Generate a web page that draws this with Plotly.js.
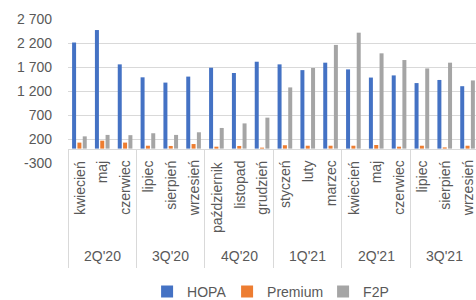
<!DOCTYPE html>
<html>
<head>
<meta charset="utf-8">
<script src="https://cdn.plot.ly/plotly-3.0.1.min.js"></script>
<style>html,body{margin:0;padding:0;background:#fff;}#chart{width:476px;height:300px;}</style>
</head>
<body>
<div id="chart"></div>
<script>
const months = ['kwiecień','maj','czerwiec','lipiec','sierpień','wrzesień','październik','listopad','grudzień','styczeń','luty','marzec','kwiecień','maj','czerwiec','lipiec','sierpień','wrzesień'];
const quarters = ["2Q'20","3Q'20","4Q'20","1Q'21","2Q'21","3Q'21"];
const hopa = [2210, 2470, 1755, 1485, 1375, 1500, 1685, 1575, 1810, 1755, 1635, 1790, 1650, 1480, 1525, 1365, 1430, 1300];
const premium = [125, 165, 125, 60, 55, 95, 40, 55, 20, 70, 60, 60, 60, 75, 40, 60, 25, 60];
const f2p = [255, 285, 280, 320, 285, 340, 430, 525, 645, 1275, 1680, 2160, 2415, 1985, 1845, 1670, 1790, 1420];
const yTicks = [-300, 200, 700, 1200, 1700, 2200, 2700];
const yTickText = ['-300', '200', '700', '1 200', '1 700', '2 200', '2 700'];

const xs = months.map((m, i) => i);
const FONT = 'Liberation Sans, Arial, sans-serif';
const TXT = '#595959';

const traces = [
  {type: 'bar', name: 'HOPA', x: xs, y: hopa, marker: {color: '#4472C4'}, legendwidth: 35},
  {type: 'bar', name: 'Premium', x: xs, y: premium, marker: {color: '#ED7D31'}, legendwidth: 51},
  {type: 'bar', name: 'F2P', x: xs, y: f2p, marker: {color: '#A5A5A5'}, legendwidth: 30}
];

const annotations = [];
months.forEach((m, i) => {
  annotations.push({x: i, y: 0, xref: 'x', yref: 'y', text: m, showarrow: false,
    textangle: -90, xanchor: 'center', yanchor: 'top', yshift: -10,
    font: {family: FONT, size: 14, color: TXT}});
});
quarters.forEach((q, k) => {
  annotations.push({x: k * 3 + 1, y: 0, xref: 'x', yref: 'y', text: q, showarrow: false,
    xanchor: 'center', yanchor: 'middle', yshift: -107,
    font: {family: FONT, size: 14, color: TXT}});
});

const sepVals = quarters.map((q, k) => k * 3 - 0.5);

const layout = {
  width: 476, height: 300,
  margin: {l: 68, r: 0, t: 19, b: 137},
  paper_bgcolor: '#fff', plot_bgcolor: '#fff',
  barmode: 'group', bargap: 0.3, bargroupgap: 0.25,
  showlegend: true,
  legend: {orientation: 'h', xref: 'container', yref: 'container', x: 0.309, y: 0.027,
    xanchor: 'left', yanchor: 'middle', font: {family: FONT, size: 14, color: TXT},
    traceorder: 'normal'},
  xaxis: {range: [-0.5, 17.37], anchor: 'free', position: 0.1, showgrid: false, zeroline: false,
    showline: true, linecolor: '#D9D9D9', linewidth: 1,
    tickmode: 'array', tickvals: sepVals, ticks: 'outside', ticklen: 118, tickcolor: '#D9D9D9', tickwidth: 1,
    showticklabels: false},
  yaxis: {range: [-300, 2700], tickmode: 'array', tickvals: yTicks, ticktext: yTickText,
    showgrid: true, gridcolor: '#D9D9D9', gridwidth: 1, zeroline: false, showline: false,
    ticks: '', ticklabelstandoff: 15, tickfont: {family: FONT, size: 14, color: TXT}},
  annotations: annotations,
  hovermode: false
};

Plotly.newPlot('chart', traces, layout, {staticPlot: true, displayModeBar: false});
</script>
</body>
</html>
